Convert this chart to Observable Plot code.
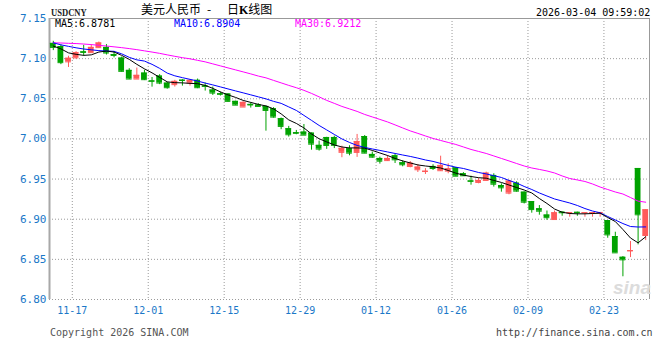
<!DOCTYPE html>
<html><head><meta charset="utf-8">
<script src="https://cdn.jsdelivr.net/npm/d3@7"></script>
<script src="https://cdn.jsdelivr.net/npm/@observablehq/plot@0.6"></script>
<style>
body{margin:0;background:#fff;}
#wrap{position:relative;width:660px;height:360px;overflow:hidden;background:#fff;}
#wrap svg{position:absolute;left:0;top:0;}
.t{position:absolute;white-space:pre;font-family:"DejaVu Sans Mono",monospace;font-size:10px;line-height:10px;}
</style></head><body>
<div id="wrap"></div>
<script>
// Daily candles (index 0 = 11-12 ... index 78 = latest)
const opens = [7.119,7.115,7.096,7.101,7.1085,7.1075,7.1137,7.114,7.105,7.1007,
7.0854,7.0746,7.082,7.0723,7.0783,7.0695,7.0676,7.0732,7.0696,7.073,
7.066,7.0609,7.0563,7.0559,7.0468,7.0397,7.043,7.0422,7.0405,7.0376,
7.0252,7.0127,7.0078,7.0085,7.0072,6.992,7.0018,7.0018,6.9833,6.9878,
6.9832,7.003,6.9807,6.9757,6.973,6.979,6.9703,6.9657,6.9616,6.9594,
6.9657,6.9604,6.9599,6.964,6.9566,6.9477,6.9458,6.9483,6.9545,6.942,
6.9325,6.9449,6.9337,6.922,6.913,6.9052,6.8996,6.9088,6.908,6.9086,
6.908,6.908,6.908,6.8983,6.8784,6.8526,6.8605,6.9632,6.8797];
const highs = [7.1216,7.117,7.103,7.1087,7.1166,7.1175,7.1207,7.1175,7.109,7.102,
7.0875,7.0883,7.0855,7.0765,7.080,7.0705,7.073,7.0738,7.0738,7.0746,
7.0696,7.0646,7.0584,7.0563,7.047,7.0464,7.0451,7.0438,7.041,7.0389,
7.026,7.0156,7.0106,7.018,7.0075,6.9973,7.002,7.0035,6.991,6.9915,
7.0056,7.0042,6.9837,6.9773,6.9791,6.981,6.9728,6.9718,6.9682,6.963,
6.9678,6.9785,6.969,6.9645,6.958,6.9536,6.9511,6.9586,6.9566,6.9441,
6.9485,6.9466,6.934,6.922,6.917,6.9102,6.9102,6.9088,6.9082,6.9088,
6.9082,6.9082,6.9084,6.8983,6.8838,6.8535,6.8722,6.9632,6.9117];
const lows = [7.110,7.0925,7.089,7.0995,7.103,7.1075,7.113,7.1045,7.101,7.0833,
7.074,7.0746,7.0727,7.0645,7.0676,7.062,7.0646,7.0658,7.0658,7.0626,
7.0596,7.0542,7.0534,7.046,7.0418,7.0397,7.0384,7.040,7.0097,7.0259,
7.0115,7.0023,7.0052,7.0047,6.986,6.9848,6.987,6.988,6.9766,6.979,
6.977,6.9816,6.976,6.9686,6.972,6.9694,6.9653,6.964,6.9582,6.9557,
6.9607,6.9595,6.9566,6.9533,6.9533,6.9424,6.9441,6.9474,6.940,6.9337,
6.9304,6.9337,6.919,6.9075,6.905,6.8986,6.8996,6.9037,6.9025,6.9037,
6.9025,6.9025,6.9025,6.8763,6.8581,6.8283,6.8522,6.868,6.8734];
const closes = [7.114,7.095,7.1005,7.1075,7.1078,7.114,7.1195,7.107,7.104,7.0842,
7.0746,7.0792,7.0738,7.0718,7.0696,7.0638,7.0717,7.0728,7.073,7.0638,
7.0655,7.0571,7.0556,7.0468,7.0421,7.0455,7.0423,7.0405,7.0355,7.0272,
7.0156,7.0052,7.007,7.0047,6.9935,6.9873,6.9919,6.992,6.9883,6.9823,
6.9968,6.9823,6.9773,6.9723,6.9757,6.974,6.9678,6.9698,6.9649,6.9598,
6.9632,6.967,6.9628,6.9536,6.9541,6.9472,6.9483,6.9574,6.9436,6.9391,
6.9475,6.935,6.9212,6.912,6.910,6.9019,6.908,6.908,6.9082,6.908,
6.9082,6.9082,6.9084,6.8805,6.8581,6.8494,6.861,6.9055,6.9117];
// Moving averages
const ma5 = [7.1157,7.1122,7.1072,7.1054,7.1041,7.1047,7.1082,7.1095,7.1082,7.1041,
7.0991,7.0929,7.0873,7.0823,7.0767,7.0711,7.0701,7.0698,7.0692,7.0688,
7.0667,7.0630,7.0586,7.0549,7.0517,7.0480,7.0455,7.0430,7.0411,7.0374,
7.0312,7.0237,7.0193,7.0137,7.0062,7.0002,6.9963,6.9925,6.9900,6.9888,
6.9888,6.9885,6.9857,6.9825,6.9794,6.9757,6.9726,6.9701,6.9676,6.9663,
6.9653,6.9638,6.9607,6.9574,6.9549,6.9532,6.9517,6.9511,6.9483,6.9458,
6.9426,6.9395,6.9364,6.9327,6.9258,6.9196,6.9127,6.9087,6.9071,6.9067,
6.9067,6.9071,6.9075,6.9021,6.8971,6.8872,6.8766,6.8706,6.8781];
const ma10 = [7.1197,7.1172,7.1153,7.1135,7.1120,7.1110,7.1100,7.1095,7.1091,7.1060,
7.1016,7.0985,7.0970,7.0929,7.0879,7.0820,7.0786,7.0763,7.0742,7.0721,
7.0696,7.0673,7.0648,7.0623,7.0598,7.0574,7.0549,7.0524,7.0499,7.0468,
7.0443,7.0399,7.0355,7.0293,7.0231,7.0168,7.0112,7.0056,7.0000,6.9956,
6.9919,6.9894,6.9875,6.9857,6.9838,6.9819,6.9800,6.9782,6.9761,6.9738,
6.9720,6.9695,6.9670,6.9648,6.9632,6.9607,6.9582,6.9564,6.9542,6.9520,
6.9483,6.9451,6.9408,6.9370,6.9327,6.9289,6.9252,6.9227,6.9202,6.9171,
6.9133,6.9102,6.9080,6.9034,6.8990,6.8946,6.8909,6.8903,6.8904];
const ma30 = [7.1197,7.1195,7.1191,7.1188,7.1182,7.1175,7.1166,7.1157,7.1147,7.1137,
7.1125,7.1112,7.1097,7.1082,7.1066,7.1047,7.1029,7.1012,7.0998,7.0979,
7.0960,7.0935,7.0910,7.0885,7.0860,7.0835,7.0810,7.0783,7.0761,7.0729,
7.0698,7.0667,7.0638,7.0605,7.0567,7.0524,7.0480,7.0443,7.0405,7.0374,
7.0343,7.0305,7.0274,7.0243,7.0212,7.0175,7.0137,7.0100,7.0069,7.0037,
7.0006,6.9981,6.9956,6.9931,6.9900,6.9869,6.9844,6.9819,6.9788,6.9757,
6.9726,6.9694,6.9663,6.9638,6.9620,6.9601,6.9576,6.9539,6.9507,6.9489,
6.9470,6.9439,6.9401,6.9370,6.9339,6.9314,6.9270,6.9225,6.9212];
const tickLabels = ["11-17","12-01","12-15","12-29","01-12","01-26","02-09","02-23"];
const tickIndex = [3,13,23,33,43,53,63,73];
const yTicks = [7.15,7.10,7.05,7.00,6.95,6.90,6.85,6.80];
const yGrid = [7.10,7.05,7.00,6.95,6.90,6.85,6.80];
const maLast = {ma5:"6.8781", ma10:"6.8904", ma30:"6.9212"};

const RED = "#ff5a5a", GREEN = "#00a200", BLUE = "#1a78c8";
const data = opens.map((o,i)=>({i, open:o, high:highs[i], low:lows[i], close:closes[i],
  col: closes[i] >= o ? RED : GREEN}));
const maRows = (arr)=>arr.map((v,i)=>({i, v}));

const chart = Plot.plot({
  width:660, height:360,
  marginTop:18, marginBottom:61, marginLeft:49, marginRight:11,
  x:{type:"linear", domain:[-0.5, 78.5], axis:null},
  y:{domain:[6.80, 7.15], axis:null},
  style:{background:"#fff", fontFamily:"DejaVu Sans Mono, monospace", fontSize:"10px", overflow:"visible"},
  marks:[
    Plot.ruleY(yGrid, {stroke:"#9a9a9a", strokeDasharray:"1,2"}),
    Plot.ruleX(tickIndex, {x:d=>d-0.5, stroke:"#9a9a9a", strokeDasharray:"1,2"}),
    Plot.ruleY([7.15], {stroke:"#999"}),
    Plot.ruleX([78.5], {stroke:"#999"}),
    Plot.ruleX([-0.5], {stroke:"#a8a8a8", strokeWidth:2}),
    Plot.ruleX(data, {x:"i", y1:"low", y2:"high", stroke:"col"}),
    Plot.rect(data, {x1:d=>d.i-0.38, x2:d=>d.i+0.38, y1:"open", y2:"close", fill:"col"}),
    Plot.ruleY(data, {y:"open", x1:d=>d.i-0.38, x2:d=>d.i+0.38, stroke:"col"}),
    Plot.ruleY(data, {y:"close", x1:d=>d.i-0.38, x2:d=>d.i+0.38, stroke:"col"}),
    Plot.line(maRows(ma30), {x:"i", y:"v", stroke:"#ff00ff", strokeWidth:1}),
    Plot.line(maRows(ma10), {x:"i", y:"v", stroke:"#0000ff", strokeWidth:1}),
    Plot.line(maRows(ma5), {x:"i", y:"v", stroke:"#000", strokeWidth:1}),
    Plot.text(yTicks, {y:d=>d, text:d=>d.toFixed(2), frameAnchor:"left", textAnchor:"end", dx:-3, fill:BLUE, fontSize:11}),
    Plot.text(tickIndex, {x:d=>d-0.5, text:(d,i)=>tickLabels[i], frameAnchor:"bottom", dy:14, fill:BLUE, fontSize:10})
  ]
});
const wrap = document.getElementById("wrap");
wrap.appendChild(chart);

function addText(txt, left, top, css){
  const d = document.createElement("div");
  d.className = "t";
  d.style.left = left + "px"; d.style.top = top + "px";
  if (css) d.style.cssText += css;
  d.innerHTML = txt;
  wrap.appendChild(d);
  return d;
}
addText("USDCNY", 51, 7, "font-family:'Liberation Serif',serif;font-weight:bold;font-size:11px;line-height:11px;transform:scaleX(0.78);transform-origin:left top;color:#222;");
addText("美元人民币", 141, 3, "font-family:'Noto Sans CJK SC',sans-serif;font-size:12px;line-height:12px;color:#000;");
addText("-", 207, 3, "font-family:'Noto Sans CJK SC',sans-serif;font-size:12px;line-height:12px;color:#000;");
addText("日<b style='font-family:Liberation Serif,serif'>K</b>线图", 227, 3, "font-family:'Noto Sans CJK SC',sans-serif;font-size:12px;line-height:12px;color:#000;");
addText("2026-03-04 09:59:02", 536, 8, "color:#000;");
addText("MA5:" + maLast.ma5, 55, 19, "color:#000;");
addText("MA10:" + maLast.ma10, 174, 19, "color:#0000ff;");
addText("MA30:" + maLast.ma30, 295, 19, "color:#ff00ff;");
addText("Copyright 2026 SINA.COM", 50, 328, "color:#555;");
addText("http://finance.sina.com.cn", 496, 328, "color:#444;");
addText("sina", 613, 278, "font-family:'Liberation Sans',sans-serif;font-style:italic;font-weight:bold;font-size:19px;line-height:19px;color:#dcdcdc;");
</script>
</body></html>
